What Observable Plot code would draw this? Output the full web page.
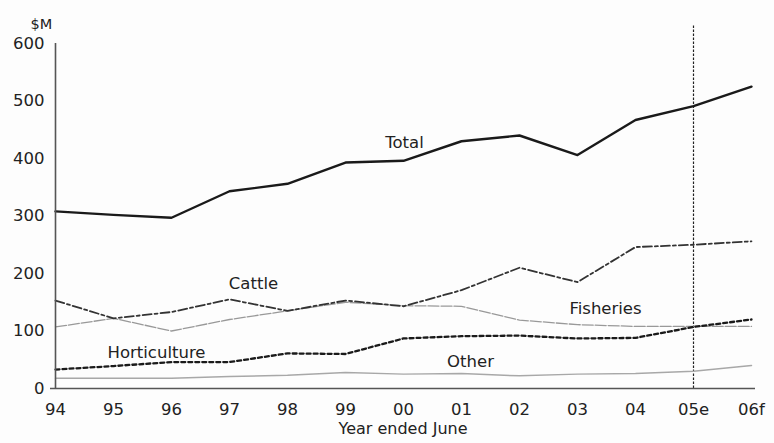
<!DOCTYPE html>
<html>
<head>
<meta charset="utf-8">
<script src="https://cdn.jsdelivr.net/npm/d3@7"></script>
<script src="https://cdn.jsdelivr.net/npm/@observablehq/plot@0.6"></script>
<style>
  html, body { margin: 0; padding: 0; background: #fdfdfd; }
  #chart svg { display: block; }
</style>
</head>
<body>
<div id="chart"></div>
<script>
const years = ["94","95","96","97","98","99","00","01","02","03","04","05e","06f"];
const total        = [308, 302, 297, 343, 356, 393, 396, 430, 440, 406, 467, 491, 525];
const cattle       = [153, 122, 133, 155, 135, 153, 143, 171, 210, 185, 246, 250, 256];
const fisheries    = [107, 122, 100, 120, 135, 150, 144, 143, 119, 111, 108, 108, 108];
const horticulture = [33, 39, 46, 46, 61, 60, 87, 91, 92, 87, 88, 107, 120];
const other        = [18, 18, 18, 21, 23, 28, 25, 26, 22, 25, 26, 30, 40];
const yTicks = [0, 100, 200, 300, 400, 500, 600];
const labelNames = ["Total", "Cattle", "Fisheries", "Horticulture", "Other"];
const labelYears = ["00", "97", "03", "96", "01"];
const labelValues = [428, 183, 139, 63, 47];
const labelShift = [1, 24, 28, -15, 9];
const estimateYear = "05e";

const line = (vals, opts) => Plot.line(years, {x: d => d, y: (d, i) => vals[i], ...opts});
const label = (i) => Plot.text([labelNames[i]], {
  x: () => labelYears[i], y: () => labelValues[i], text: d => d,
  dx: labelShift[i], fill: "#222", fontSize: 16.5
});

const chart = Plot.plot({
  width: 774,
  height: 443,
  marginLeft: 50,
  marginRight: 19,
  marginTop: 43,
  marginBottom: 55,
  style: {fontFamily: "DejaVu Sans", fontSize: "16.5px", color: "#222", background: "#fdfdfd"},
  x: {type: "point", domain: years, padding: 0, tickSize: 0, tickPadding: 15, label: null},
  y: {domain: [0, 600], ticks: yTicks, tickSize: 0, tickPadding: 6, label: null},
  marks: [
    Plot.ruleX([estimateYear], {y1: 0, y2: 632, stroke: "#222", strokeWidth: 1.2, strokeDasharray: "2.5,1.5"}),
    line(other, {stroke: "#a8a8a8", strokeWidth: 1.5}),
    line(fisheries, {stroke: "#999", strokeWidth: 1.3, strokeDasharray: "11,2"}),
    line(horticulture, {stroke: "#1a1a1a", strokeWidth: 2.3, strokeDasharray: "4,3"}),
    line(cattle, {stroke: "#333", strokeWidth: 1.8, strokeDasharray: "9,3,3,3"}),
    line(total, {stroke: "#1a1a1a", strokeWidth: 2.4}),
    Plot.ruleY([0], {stroke: "#555", strokeWidth: 1.6}),
    Plot.ruleX([years[0]], {y1: 0, y2: 600, stroke: "#555", strokeWidth: 1.6}),
    ...labelNames.map((_, i) => label(i)),
    Plot.text(["$M"], {frameAnchor: "top-left", dx: -20, dy: -25, text: d => d, fill: "#222", fontSize: 14.5}),
    Plot.text(["Year ended June"], {frameAnchor: "bottom", dy: 45, text: d => d, fill: "#222", fontSize: 16})
  ]
});
document.getElementById("chart").appendChild(chart);
</script>
</body>
</html>
